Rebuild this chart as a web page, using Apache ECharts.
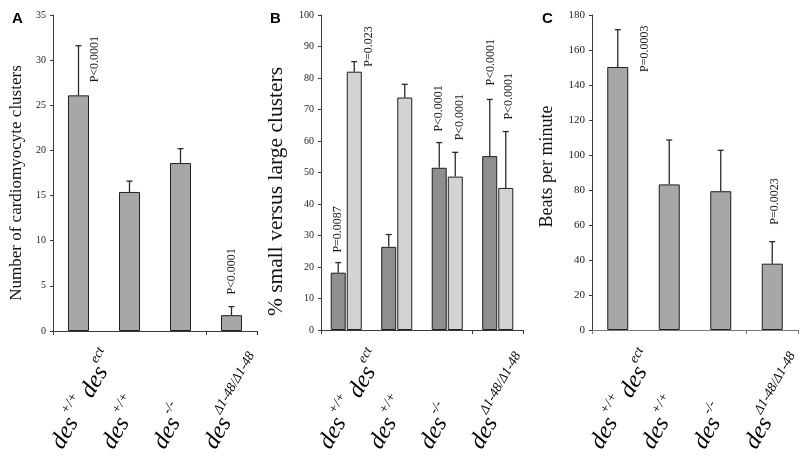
<!DOCTYPE html>
<html><head><meta charset="utf-8">
<script src="https://cdn.jsdelivr.net/npm/echarts@6/dist/echarts.min.js"></script>
<style>html,body{margin:0;padding:0;background:#fff}#c{width:800px;height:462px}</style>
</head><body><div id="c"></div>
<script>
// ---------- data ----------
const categories = ['des+/+ desect', 'des+/+', 'des-/-', 'desΔ1-48/Δ1-48'];
// x label pieces: [base, superscript] pairs per category
const xLabelParts = [
  [['des', '+/+'], ['des', 'ect']],
  [['des', '+/+']],
  [['des', '-/-']],
  [['des', 'Δ1-48/Δ1-48']]
];
// Panel A: number of cardiomyocyte clusters
const clustersMean = [26.1, 15.4, 18.6, 1.75];
const clustersSd   = [5.5, 1.2, 1.6, 0.95];
// Panel B: % small versus large clusters
const smallMean = [18.2, 26.4, 51.5, 55.2];
const smallSd   = [3.2, 3.9, 8.0, 18.0];
const largeMean = [82.0, 73.8, 48.7, 45.1];
const largeSd   = [3.2, 4.2, 7.7, 17.9];
// Panel C: beats per minute
const beatsMean = [150.3, 83.2, 79.3, 37.9];
const beatsSd   = [21.3, 25.4, 23.4, 12.6];
// y-axis ranges / ticks
const yA = {max: 35, step: 5};
const yB = {max: 100, step: 10};
const yC = {max: 180, step: 20};
// P-value annotations (category index -> text)
const pA      = {0: 'P<0.0001', 3: 'P<0.0001'};
const pBsmall = {0: 'P=0.0087', 2: 'P<0.0001', 3: 'P<0.0001'};
const pBlarge = {0: 'P=0.023', 2: 'P<0.0001', 3: 'P<0.0001'};
const pC      = {0: 'P=0.0003', 3: 'P=0.0023'};
const titles = ['Number of cardiomyocyte clusters', '% small versus large clusters', 'Beats per minute'];
const panelLetters = ['A', 'B', 'C'];

// ---------- layout / style (not data) ----------
const pLayoutA      = {0: {side: 'right', dx: 6, dy: -13}, 3: {side: 'top', dx: 0, dy: -12}};
const pLayoutBsmall = {0: {side: 'top', dx: 0, dy: -10}, 2: {side: 'top', dx: 0, dy: -11}, 3: {side: 'top', dx: 1, dy: -14}};
const pLayoutBlarge = {0: {side: 'right', dx: 7, dy: -5}, 2: {side: 'top', dx: 5, dy: -12}, 3: {side: 'top', dx: 3, dy: -12}};
const pLayoutC      = {0: {side: 'right', dx: 17, dy: 5}, 3: {side: 'top', dx: 3, dy: -17}};

const SERIF = '"Liberation Serif","Times New Roman",serif';

function errRender(offset, barW, texts, layout) {
  return function (params, api) {
    const i = api.value(0), m = api.value(1), sd = api.value(2);
    const c = api.coord([i, m]);
    const t = api.coord([i, m + sd]);
    const x = c[0] + offset;
    const st = {stroke: '#2a2a2a', lineWidth: 1.3};
    const children = [
      {type: 'line', shape: {x1: x, y1: c[1], x2: x, y2: t[1]}, style: st},
      {type: 'line', shape: {x1: x - 3, y1: t[1], x2: x + 3, y2: t[1]}, style: st}
    ];
    const txt = texts[i];
    if (txt) {
      const L = layout[i];
      let ax, ay;
      if (L.side === 'top') { ax = x + L.dx; ay = t[1] + L.dy; }
      else { ax = x + barW / 2 + L.dx; ay = c[1] + L.dy; }
      children.push({
        type: 'text', x: ax, y: ay, rotation: Math.PI / 2,
        style: {text: txt, textAlign: 'left', textVerticalAlign: 'middle',
                font: '12px ' + SERIF, fill: '#1a1a1a'}
      });
    }
    return {type: 'group', children: children};
  };
}

const grids = [
  {left: 53, top: 15, width: 204, height: 316},
  {left: 321, top: 15, width: 202, height: 315},
  {left: 592, top: 15, width: 206, height: 315}
];
const axisCol = ['#3a3a3a', '#3a3a3a', '#7a7a7a'];
const yDefs = [yA, yB, yC];
const nameGaps = [28, 34, 36];
const nameSizes = [17, 21.5, 18];
const namePads = [[0, 20, 0, 0], [0, 38, 0, 0], [0, 0, 0, 12]];
const labelSizes = [10, 10, 11];

const option = {
  backgroundColor: '#fff',
  animation: false,
  grid: grids,
  xAxis: grids.map((g, k) => ({
    type: 'category', gridIndex: k, data: categories,
    axisLine: {show: true, lineStyle: {color: axisCol[k], width: 1}},
    axisTick: {show: true, length: 4, lineStyle: {color: axisCol[k]}},
    axisLabel: {show: false}
  })),
  yAxis: grids.map((g, k) => ({
    type: 'value', gridIndex: k, min: 0, max: yDefs[k].max, interval: yDefs[k].step,
    axisLine: {show: true, lineStyle: {color: '#3a3a3a', width: 1}},
    axisTick: {show: true, length: 3, lineStyle: {color: '#3a3a3a'}},
    splitLine: {show: false},
    axisLabel: {fontFamily: SERIF, fontSize: labelSizes[k], color: '#222', margin: 7},
    name: titles[k], nameLocation: 'middle', nameGap: nameGaps[k], nameRotate: 90,
    nameTextStyle: {fontFamily: SERIF, fontSize: nameSizes[k], color: '#111', padding: namePads[k]}
  })),
  series: [
    {type: 'bar', xAxisIndex: 0, yAxisIndex: 0, data: clustersMean, barWidth: 21,
     itemStyle: {color: '#a7a7a7', borderColor: '#1e1e1e', borderWidth: 1}},
    {type: 'custom', xAxisIndex: 0, yAxisIndex: 0, z: 5,
     data: clustersMean.map((v, i) => [i, v, clustersSd[i]]),
     renderItem: errRender(0, 21, pA, pLayoutA)},

    {type: 'bar', xAxisIndex: 1, yAxisIndex: 1, data: smallMean, barWidth: 15, barGap: '7%',
     itemStyle: {color: '#8f8f8f', borderColor: '#1e1e1e', borderWidth: 1}},
    {type: 'bar', xAxisIndex: 1, yAxisIndex: 1, data: largeMean, barWidth: 15, barGap: '7%',
     itemStyle: {color: '#d3d3d3', borderColor: '#1e1e1e', borderWidth: 1}},
    {type: 'custom', xAxisIndex: 1, yAxisIndex: 1, z: 5,
     data: smallMean.map((v, i) => [i, v, smallSd[i]]),
     renderItem: errRender(-8, 15, pBsmall, pLayoutBsmall)},
    {type: 'custom', xAxisIndex: 1, yAxisIndex: 1, z: 5,
     data: largeMean.map((v, i) => [i, v, largeSd[i]]),
     renderItem: errRender(8, 15, pBlarge, pLayoutBlarge)},

    {type: 'bar', xAxisIndex: 2, yAxisIndex: 2, data: beatsMean, barWidth: 21,
     itemStyle: {color: '#a7a7a7', borderColor: '#1e1e1e', borderWidth: 1}},
    {type: 'custom', xAxisIndex: 2, yAxisIndex: 2, z: 5,
     data: beatsMean.map((v, i) => [i, v, beatsSd[i]]),
     renderItem: errRender(0, 21, pC, pLayoutC)}
  ]
};

const chart = echarts.init(document.getElementById('c'), null, {renderer: 'canvas'});
chart.setOption(option);

// x-axis category labels (rotated, with superscripts) and panel letters
const graphics = [];
const letterPos = [[12, 11], [270, 11], [542, 11]];
panelLetters.forEach((L, k) => {
  graphics.push({type: 'text', x: letterPos[k][0], y: letterPos[k][1],
    style: {text: L, font: 'bold 15px "Liberation Sans",Arial,sans-serif', fill: '#000'}});
});
const mctx = document.createElement('canvas').getContext('2d');
function tw(s, size) { mctx.font = 'italic ' + size + 'px ' + SERIF; return mctx.measureText(s).width; }
const D_SIZE = 24, S_SIZE = 13.5;
const SUP_RAISE = 16, SUP_GAP = 1, WORD_GAP = 4;
const ANG = Math.PI / 3;
const ux = Math.cos(ANG), uy = -Math.sin(ANG);   // along-text direction
const nx = -Math.sin(ANG), ny = -Math.cos(ANG);  // "up" direction of text
function addText(ax, ay, lx, lup, text, size) {
  graphics.push({type: 'text', x: ax + lx * ux + lup * nx, y: ay + lx * uy + lup * ny,
    rotation: ANG,
    style: {text: '{t|' + text + '}', textAlign: 'left', textVerticalAlign: 'bottom',
      rich: {t: {fontFamily: SERIF, fontStyle: 'italic', fontSize: size, color: '#111'}}}});
}
for (let k = 0; k < 3; k++) {
  categories.forEach((cat, i) => {
    const cx = chart.convertToPixel({xAxisIndex: k}, i);
    const ax = cx - 11, ay = 453;
    let px = 0;
    xLabelParts[i].forEach((p, j) => {
      if (j > 0) px += WORD_GAP;
      addText(ax, ay, px, 0, p[0], D_SIZE);
      px += tw(p[0], D_SIZE) + SUP_GAP;
      addText(ax, ay, px, SUP_RAISE, p[1], S_SIZE);
      px += tw(p[1], S_SIZE);
    });
  });
}
chart.setOption({graphic: graphics});
</script>
</body></html>
